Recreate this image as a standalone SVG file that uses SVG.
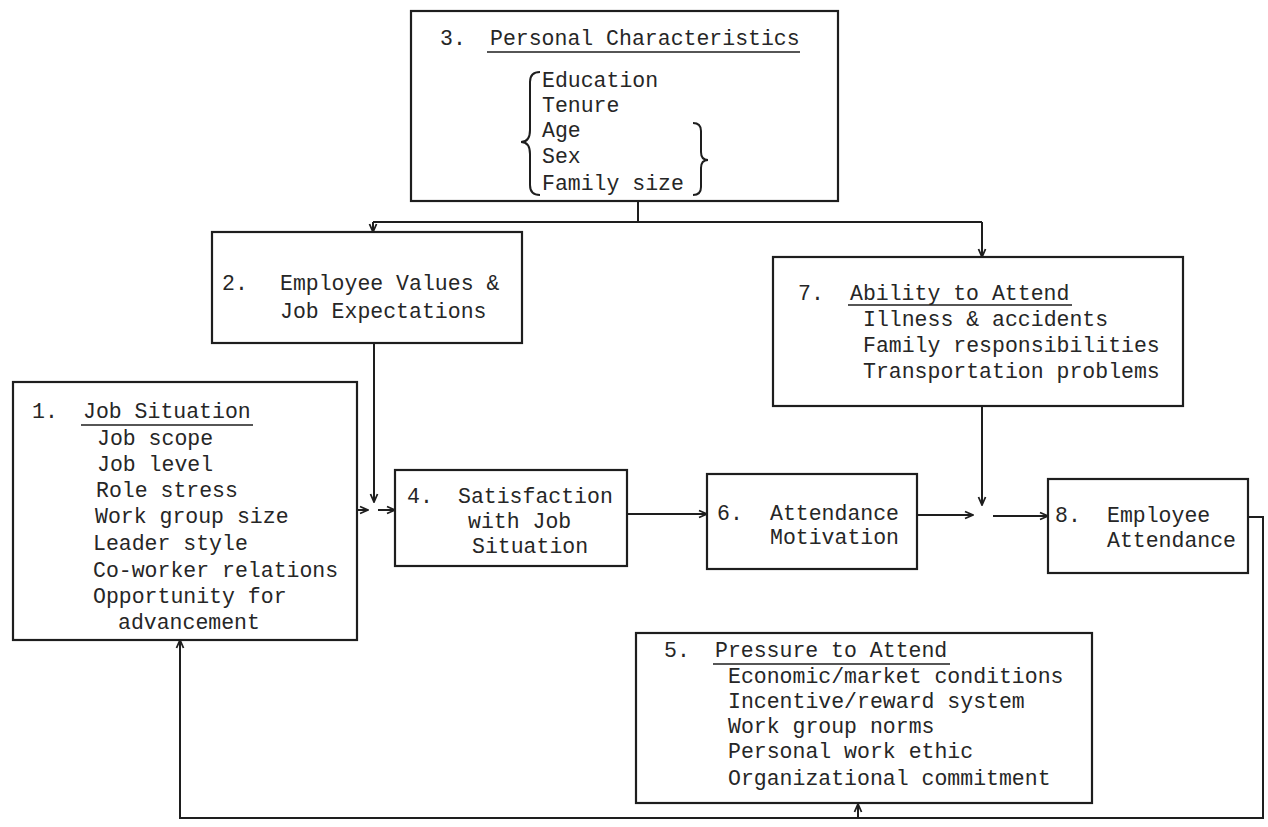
<svg xmlns="http://www.w3.org/2000/svg" width="1268" height="827" viewBox="0 0 1268 827">
<style>
.box{fill:none;stroke:#1e1e1e;stroke-width:2.2}
.ln{fill:none;stroke:#1e1e1e;stroke-width:2}
.t{font-family:"Liberation Mono","DejaVu Sans Mono",monospace;font-size:21.5px;fill:#262626}
.ul{stroke:#1e1e1e;stroke-width:1.6}
</style>
<defs>
<marker id="ah" viewBox="0 0 10 10" refX="9" refY="5" markerWidth="10" markerHeight="10" markerUnits="userSpaceOnUse" orient="auto">
<path d="M1,1.5 L9,5 L1,8.5" fill="none" stroke="#1e1e1e" stroke-width="1.8"/>
</marker>
</defs>
<rect width="1268" height="827" fill="#fff"/>

<g id="node3">
<rect class="box" x="411" y="11" width="427" height="190"/>
<text class="t" x="440" y="45">3.</text>
<text class="t" x="490" y="45">Personal Characteristics</text>
<line class="ul" x1="487" y1="52" x2="800" y2="52"/>
<path class="ln" d="M540 72 Q530 72 530 82 L530 130 Q530 142 521 142 Q530 142 530 154 L530 185 Q530 195 540 195"/>
<text class="t" x="542" y="87">Education</text>
<text class="t" x="542" y="112">Tenure</text>
<text class="t" x="542" y="137">Age</text>
<text class="t" x="542" y="163">Sex</text>
<text class="t" x="542" y="190">Family size</text>
<path class="ln" d="M693 123 Q701 123 701 131 L701 152 Q701 160 708 160 Q701 160 701 168 L701 187 Q701 195 693 195"/>
</g>

<g id="node2">
<rect class="box" x="212" y="232" width="310" height="111"/>
<text class="t" x="222" y="290">2.</text>
<text class="t" x="280" y="290">Employee Values &amp;</text>
<text class="t" x="280" y="318">Job Expectations</text>
</g>

<g id="node7">
<rect class="box" x="773" y="257" width="410" height="149"/>
<text class="t" x="798" y="300">7.</text>
<text class="t" x="850" y="300">Ability to Attend</text>
<line class="ul" x1="848" y1="305" x2="1072" y2="305"/>
<text class="t" x="863" y="326">Illness &amp; accidents</text>
<text class="t" x="863" y="352">Family responsibilities</text>
<text class="t" x="863" y="378">Transportation problems</text>
</g>

<g id="node1">
<rect class="box" x="13" y="382" width="344" height="258"/>
<text class="t" x="32" y="418">1.</text>
<text class="t" x="83" y="418">Job Situation</text>
<line class="ul" x1="81" y1="425" x2="253" y2="425"/>
<text class="t" x="97" y="445">Job scope</text>
<text class="t" x="97" y="471">Job level</text>
<text class="t" x="96" y="497">Role stress</text>
<text class="t" x="95" y="523">Work group size</text>
<text class="t" x="93" y="550">Leader style</text>
<text class="t" x="93" y="577">Co-worker relations</text>
<text class="t" x="93" y="603">Opportunity for</text>
<text class="t" x="118" y="629">advancement</text>
</g>

<g id="node4">
<rect class="box" x="395" y="470" width="232" height="96"/>
<text class="t" x="407" y="503">4.</text>
<text class="t" x="458" y="503">Satisfaction</text>
<text class="t" x="468" y="528">with Job</text>
<text class="t" x="472" y="553">Situation</text>
</g>

<g id="node6">
<rect class="box" x="707" y="474" width="210" height="95"/>
<text class="t" x="717" y="520">6.</text>
<text class="t" x="770" y="520">Attendance</text>
<text class="t" x="770" y="544">Motivation</text>
</g>

<g id="node8">
<rect class="box" x="1048" y="479" width="200" height="94"/>
<text class="t" x="1055" y="522">8.</text>
<text class="t" x="1107" y="522">Employee</text>
<text class="t" x="1107" y="547">Attendance</text>
</g>

<g id="node5">
<rect class="box" x="636" y="633" width="456" height="170"/>
<text class="t" x="664" y="657">5.</text>
<text class="t" x="715" y="657">Pressure to Attend</text>
<line class="ul" x1="713" y1="664" x2="950" y2="664"/>
<text class="t" x="728" y="683">Economic/market conditions</text>
<text class="t" x="728" y="708">Incentive/reward system</text>
<text class="t" x="728" y="733">Work group norms</text>
<text class="t" x="728" y="758">Personal work ethic</text>
<text class="t" x="728" y="785">Organizational commitment</text>
</g>

<g id="connectors">
<polyline class="ln" points="638,201 638,222"/>
<polyline class="ln" points="373,222 982,222"/>
<line class="ln" x1="373" y1="222" x2="373" y2="232" marker-end="url(#ah)"/>
<line class="ln" x1="982" y1="222" x2="982" y2="257" marker-end="url(#ah)"/>
<line class="ln" x1="374" y1="343" x2="374" y2="502" marker-end="url(#ah)"/>
<line class="ln" x1="357" y1="510" x2="368" y2="510" marker-end="url(#ah)"/>
<line class="ln" x1="378" y1="510" x2="395" y2="510" marker-end="url(#ah)"/>
<line class="ln" x1="627" y1="514" x2="707" y2="514" marker-end="url(#ah)"/>
<line class="ln" x1="917" y1="515" x2="973" y2="515" marker-end="url(#ah)"/>
<line class="ln" x1="982" y1="406" x2="982" y2="505" marker-end="url(#ah)"/>
<line class="ln" x1="993" y1="516" x2="1048" y2="516" marker-end="url(#ah)"/>
<polyline class="ln" points="1248,517 1263,517 1263,818 180,818 180,640" marker-end="url(#ah)"/>
<line class="ln" x1="858" y1="818" x2="858" y2="804" marker-end="url(#ah)"/>
</g>
</svg>
